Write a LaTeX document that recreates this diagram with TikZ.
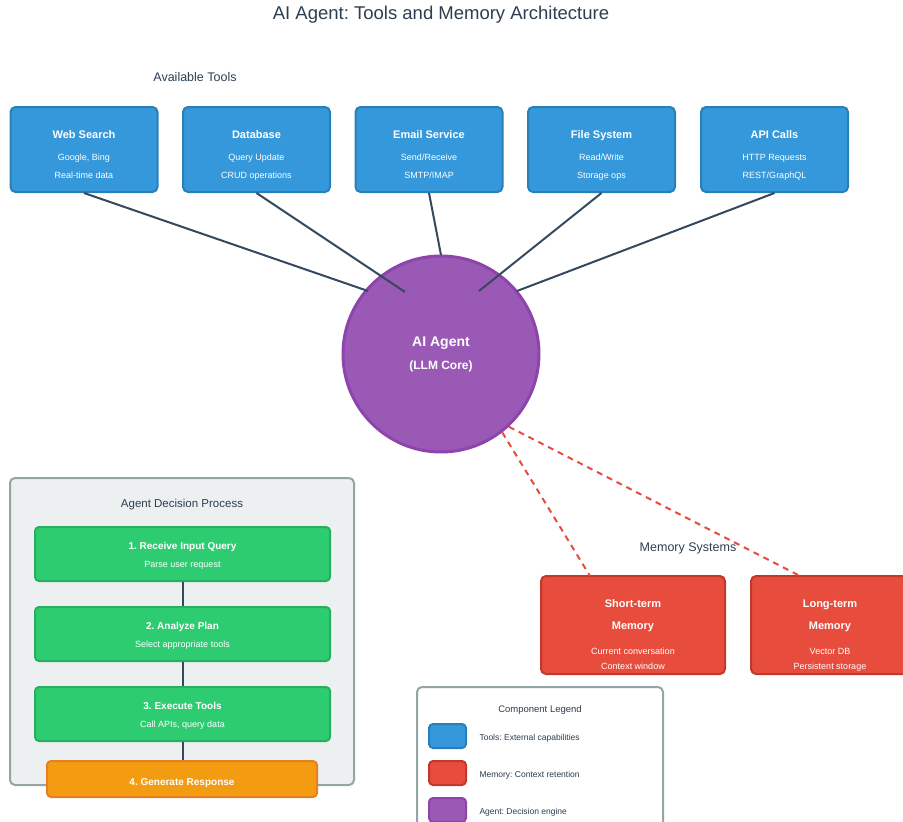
\documentclass[tikz,border=0pt]{standalone}
\usepackage{fontspec}
\setmainfont{Liberation Sans}
\usetikzlibrary{positioning}
\definecolor{toolfill}{HTML}{3498DB}
\definecolor{tooledge}{HTML}{2980B9}
\definecolor{agentfill}{HTML}{9B59B6}
\definecolor{agentedge}{HTML}{8E44AD}
\definecolor{memfill}{HTML}{E74C3C}
\definecolor{memedge}{HTML}{C0392B}
\definecolor{stepfill}{HTML}{2ECC71}
\definecolor{stepedge}{HTML}{27AE60}
\definecolor{respfill}{HTML}{F39C12}
\definecolor{respedge}{HTML}{E67E22}
\definecolor{inkdark}{HTML}{2C3E50}
\definecolor{wire}{HTML}{34495E}
\definecolor{panelfill}{HTML}{ECF0F1}
\definecolor{paneledge}{HTML}{95A5A6}
\frenchspacing

\begin{document}
\begin{tikzpicture}[x=1pt,y=-1pt,line join=round,
  every node/.append style={text height=0.72em,text depth=0pt},
  tool node/.style={rectangle,rounded corners=5pt,fill=toolfill,draw=tooledge,line width=2pt,minimum width=147pt,minimum height=85pt},
  mem node/.style={rectangle,rounded corners=5pt,fill=memfill,draw=memedge,line width=2pt,minimum width=184pt,minimum height=98pt},
  step node/.style={rectangle,rounded corners=4pt,fill=stepfill,draw=stepedge,line width=2pt,minimum width=295pt,minimum height=54pt},
  resp node/.style={rectangle,rounded corners=4pt,fill=respfill,draw=respedge,line width=2pt,minimum width=270pt,minimum height=36pt},
  swatch node/.style={rectangle,rounded corners=4pt,line width=2pt,minimum width=37pt,minimum height=24pt},
  head text/.style={text=white,font=\fontsize{11}{13}\selectfont\bfseries},
  step text/.style={text=white,font=\fontsize{10}{12}\selectfont\bfseries},
  sub text/.style={text=white,font=\fontsize{9}{11}\selectfont},
  caption text/.style={text=inkdark,font=\fontsize{12.5}{15}\selectfont},
  legend text/.style={text=inkdark,font=\fontsize{8.5}{10}\selectfont,anchor=west},
  tool edge/.style={draw=wire,line width=2pt},
  mem edge/.style={draw=memfill,line width=2pt,dash pattern=on 6pt off 5pt}]
\useasboundingbox (0,0) rectangle (903,822);

  \node[text=inkdark,font=\fontsize{18.5}{22}\selectfont] (title) at (441,15.5) {AI Agent: Tools and Memory Architecture};

  % tools row
  \node[caption text] (toolscap) at (195,77.5) {Available Tools};
  \foreach \name/\cx/\head/\lineA/\lineB in {web/84/Web Search/{Google, Bing}/Real-time data,
      db/256.5/Database/Query Update/CRUD operations,
      mail/429/Email Service/Send\slash Receive/SMTP\slash IMAP,
      files/601.5/File System/Read\slash Write/Storage ops,
      api/774.5/API Calls/HTTP Requests/REST\slash GraphQL}{
    \node[tool node] (\name) at (\cx,149.5) {};
    \node[head text] (\name-head) at (\cx,134.5) {\head};
    \node[sub text] (\name-a) at (\cx,157) {\lineA};
    \node[sub text] (\name-b) at (\cx,175) {\lineB};
  }

  % agent
  \node[circle,fill=agentfill,draw=agentedge,line width=3pt,minimum size=196pt] (agent) at (441,354) {};
  \node[text=white,font=\fontsize{14}{17}\selectfont\bfseries] (agent-head) at (441,342.5) {AI Agent};
  \node[text=white,font=\fontsize{12}{14}\selectfont\bfseries] (agent-sub) at (441,366) {(LLM Core)};
  \coordinate (in1) at (368,291);
  \coordinate (in2) at (405,292);
  \coordinate (in3) at (441,255);
  \coordinate (in4) at (479,291);
  \coordinate (in5) at (517,291);

\path[tool edge]
  (web.south) edge (in1)
  (db.south) edge (in2)
  (mail.south) edge (in3)
  (files.south) edge (in4)
  (api.south) edge (in5)
;

  % memory
  \node[caption text] (memcap) at (688,547.5) {Memory Systems};
  \node[mem node] (short) at (633,625) {};
  \node[head text] (short-h1) at (633,603.5) {Short-term};
  \node[head text] (short-h2) at (633,625.5) {Memory};
  \node[sub text] (short-a) at (633,651) {Current conversation};
  \node[sub text] (short-b) at (633,666) {Context window};
  \node[mem node] (long) at (843,625) {};
  \node[head text] (long-h1) at (830,603.5) {Long-term};
  \node[head text] (long-h2) at (830,625.5) {Memory};
  \node[sub text] (long-a) at (830,651) {Vector DB};
  \node[sub text] (long-b) at (830,666) {Persistent storage};
  \coordinate (shorttop) at (590,576);
  \coordinate (longtop) at (800,576);

\path[mem edge]
  (agent.-52) edge (shorttop)
  (agent.-47) edge (longtop)
;

  % decision process
  \node[rectangle,rounded corners=5pt,fill=panelfill,draw=paneledge,line width=2pt,minimum width=344pt,minimum height=307pt] (panel) at (182,631.5) {};
  \node[text=inkdark,font=\fontsize{11.5}{13}\selectfont] (panelcap) at (182,503.5) {Agent Decision Process};
  \node[step node] (s1) at (182.5,554) {};
  \node[step text] (s1-h) at (182.5,546) {1. Receive Input Query};
  \node[sub text] (s1-a) at (182.5,564) {Parse user request};
  \node[step node] (s2) at (182.5,634) {};
  \node[step text] (s2-h) at (182.5,626) {2. Analyze Plan};
  \node[sub text] (s2-a) at (182.5,644) {Select appropriate tools};
  \node[step node] (s3) at (182.5,714) {};
  \node[step text] (s3-h) at (182.5,706) {3. Execute Tools};
  \node[sub text] (s3-a) at (182.5,724) {Call APIs, query data};
  \node[resp node] (s4) at (182,779) {};
  \node[step text] (s4-h) at (182,782) {4. Generate Response};

\path[tool edge]
  (s1.south) edge (s2.north)
  (s2.south) edge (s3.north)
  (s3.south) edge (s3.south |- s4.north)
;

  % legend
  \node[rectangle,rounded corners=5pt,fill=white,draw=paneledge,line width=2pt,minimum width=246pt,minimum height=150pt] (legend) at (540,762) {};
  \node[text=inkdark,font=\fontsize{9.5}{11}\selectfont] (legendcap) at (540,708.5) {Component Legend};
  \node[swatch node,fill=toolfill,draw=tooledge] (sw1) at (447.5,736) {};
  \node[legend text] (lg1) at (476,736.5) {Tools: External capabilities};
  \node[swatch node,fill=memfill,draw=memedge] (sw2) at (447.5,773) {};
  \node[legend text] (lg2) at (476,773.5) {Memory: Context retention};
  \node[swatch node,fill=agentfill,draw=agentedge] (sw3) at (447.5,810) {};
  \node[legend text] (lg3) at (476,810.5) {Agent: Decision engine};
\end{tikzpicture}
\end{document}
